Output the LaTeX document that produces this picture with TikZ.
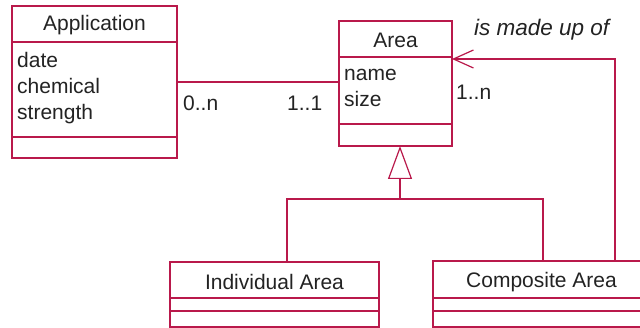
\documentclass[tikz,border=0pt]{standalone}
\usepackage{fontspec}
\setmainfont{Liberation Sans}
\usetikzlibrary{arrows.meta,calc}
\definecolor{umlline}{RGB}{185,25,75}
\definecolor{umltext}{RGB}{35,35,35}
\begin{document}
\begin{tikzpicture}[x=1pt,y=-1pt,
  classbox/.style={draw=umlline, line width=1.2pt, fill=white, anchor=north west, inner sep=0pt, outer sep=0pt},
  link/.style={draw=umlline, line width=1.2pt},
  txt/.style={text=umltext, inner sep=0pt, font=\fontsize{21}{26}\selectfont},
  attr/.style={txt, anchor=base west},
  mult/.style={txt, anchor=base west},
  role/.style={txt, anchor=base west, font=\fontsize{22.5}{26}\selectfont\itshape}]
\useasboundingbox (0,0) rectangle (640,328);
\clip (0,0) rectangle (640,328);
\fill[white] (0,0) rectangle (640,328);

% class boxes
\node[classbox, minimum width=165pt, minimum height=152pt] (app) at (12,6) {};
\node[classbox, minimum width=113pt, minimum height=125pt] (area) at (339,21) {};
\node[classbox, minimum width=209pt, minimum height=65pt] (ind) at (170,262) {};
\node[classbox, minimum width=217pt, minimum height=66pt] (comp) at (433,261) {};

% compartments
\draw[link] ($(app.north west)+(0,36)$) -- ($(app.north east)+(0,36)$);
\draw[link] ($(app.north west)+(0,131)$) -- ($(app.north east)+(0,131)$);
\draw[link] ($(area.north west)+(0,36)$) -- ($(area.north east)+(0,36)$);
\draw[link] ($(area.north west)+(0,103)$) -- ($(area.north east)+(0,103)$);
\draw[link] ($(ind.north west)+(0,36)$) -- ($(ind.north east)+(0,36)$);
\draw[link] ($(ind.north west)+(0,49)$) -- ($(ind.north east)+(0,49)$);
\draw[link] ($(comp.north west)+(0,37)$) -- ($(comp.north east)+(0,37)$);
\draw[link] ($(comp.north west)+(0,50)$) -- ($(comp.north east)+(0,50)$);

% texts
\node[txt] (apptitle) at ($(app.north)+(0,19)$) {Application};
\node[attr] (adate) at ($(app.north west)+(5,62)$) {date};
\node[attr] (achem) at ($(app.north west)+(5,88)$) {chemical};
\node[attr] (astr) at ($(app.north west)+(5,114)$) {strength};
\node[txt] (areatitle) at ($(area.north)+(0,19)$) {Area};
\node[attr] (aname) at ($(area.north west)+(5,60)$) {name};
\node[attr] (asize) at ($(area.north west)+(5,86)$) {size};
\node[txt] (indtitle) at ($(ind.north)+(0,20)$) {Individual Area};
\node[txt] (comptitle) at ($(comp.north)+(0,21)$) {Composite Area};

% association Application - Area
\draw[link] (app.east) -- (app.east -| area.west);
\node[mult] (m0n) at (183,111) {0..n};
\node[mult] (m11) at (287,111) {1..1};

% generalization
\coordinate (gen) at ($(area.south west)+(61,53)$);
\coordinate (indtop) at ($(ind.north west)+(117,0)$);
\coordinate (comptop) at ($(comp.north west)+(110,0)$);
\draw[link, -{Triangle[open, length=33pt, width=24pt, fill=white]}] (gen) -- (gen |- area.south);
\draw[link] (indtop) |- (gen) -| (comptop);

% self association
\coordinate (selftop) at ($(comp.north west)+(182,0)$);
\coordinate (areain) at ($(area.north east)+(0,38)$);
\draw[link, -{Straight Barb[length=20pt, width=18pt]}] (selftop) |- (areain);
\node[mult] (m1n) at (456,100) {1..n};
\node[role] (madeup) at (474,36) {is made up of};
\end{tikzpicture}
\end{document}
